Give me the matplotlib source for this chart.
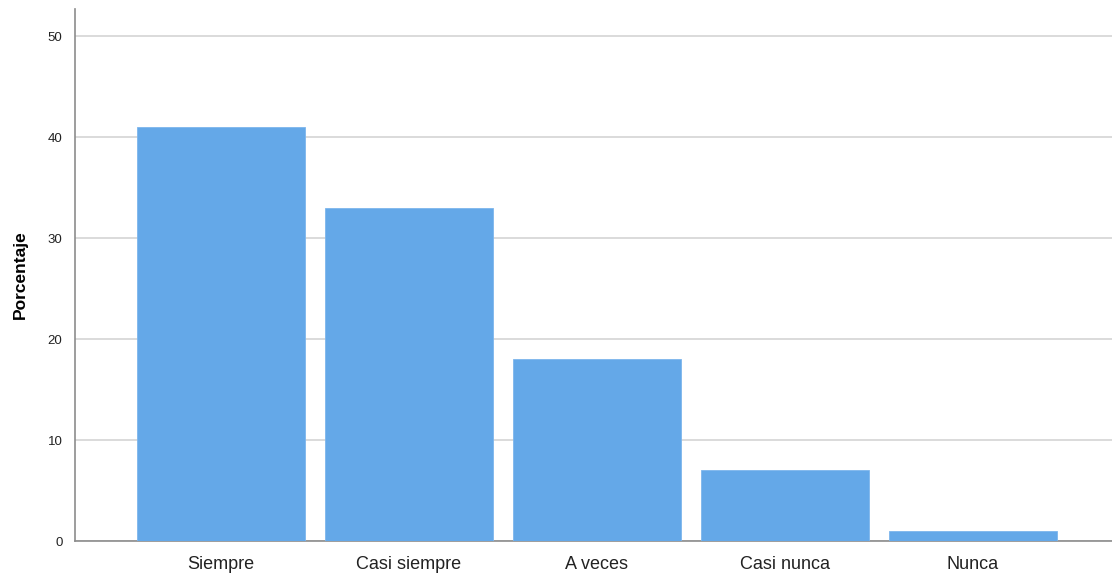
import numpy as np
import matplotlib.pyplot as plt

# Data
categorias = ["Siempre", "Casi siempre", "A veces", "Casi nunca", "Nunca"]
porcentajes = [41.0, 33.0, 18.0, 7.0, 1.0]
yticks = [0, 10, 20, 30, 40, 50]

plt.rcParams['font.family'] = ['Liberation Sans', 'DejaVu Sans']

fig = plt.figure(figsize=(11.12, 5.73), dpi=100)
ax = fig.add_axes([75/1112, 1 - 541/573, 1 - 75/1112, (541 - 9)/573])

x = np.arange(len(categorias))
ax.bar(x, porcentajes, width=0.894, color="#64a8e8", edgecolor="#7db6ec", linewidth=0.6, zorder=3)

ax.set_xlim(-0.777, 4.74)
ax.set_ylim(0, 52.7)
ax.set_yticks(yticks)
ax.set_xticks(x)
ax.set_xticklabels(categorias, fontsize=13, color="#222222")
ax.tick_params(axis='y', labelsize=9.5, length=0, pad=9, colors="#222222")
ax.tick_params(axis='x', length=0, pad=11)
ax.grid(axis='y', color="#d4d4d4", linewidth=1.2, zorder=0)

for s in ['top', 'right']:
    ax.spines[s].set_visible(False)
ax.spines['left'].set_color("#8c8c8c")
ax.spines['bottom'].set_color("#8c8c8c")
ax.spines['left'].set_linewidth(1.2)
ax.spines['bottom'].set_linewidth(1.2)

ax.set_ylabel("Porcentaje", fontsize=12.5, fontweight='bold', labelpad=14)

fig.savefig("out.png", dpi=100)
